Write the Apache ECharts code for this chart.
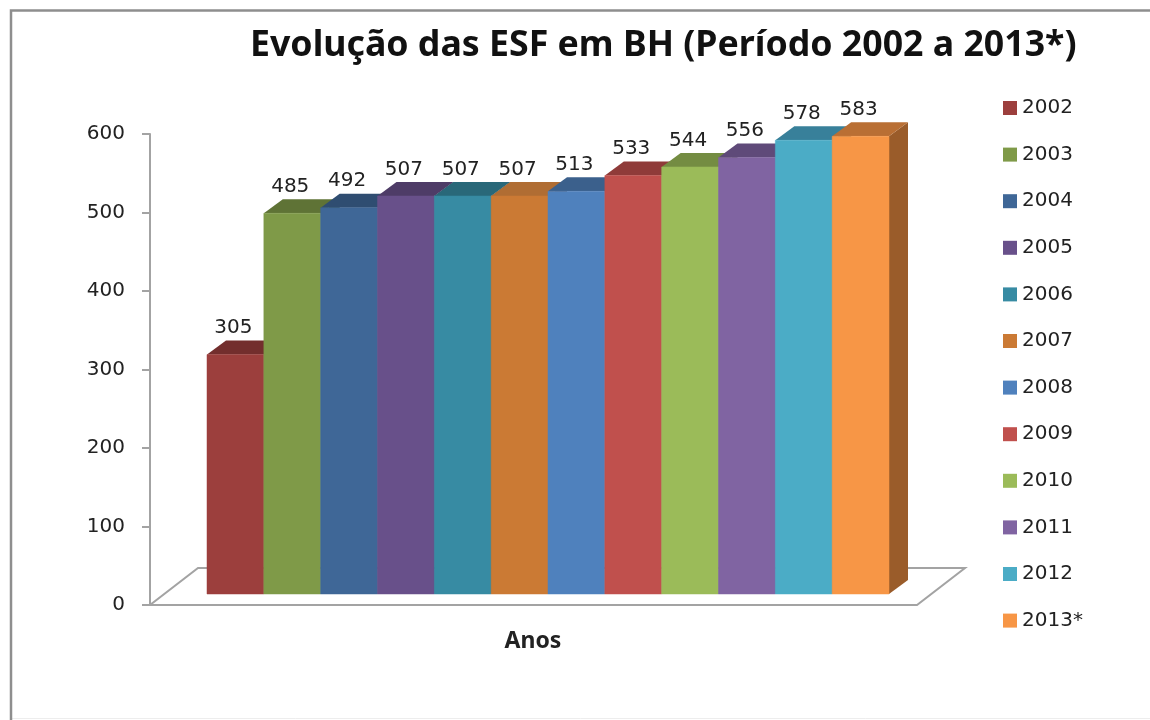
<!DOCTYPE html>
<html><head><meta charset="utf-8">
<style>html,body{margin:0;padding:0;background:#fff}#c{width:1150px;height:720px}</style>
<script src="https://cdn.jsdelivr.net/npm/echarts@6/dist/echarts.min.js"></script>
</head><body><div id="c"></div>
<script>
var categories = ['2002','2003','2004','2005','2006','2007','2008','2009','2010','2011','2012','2013*'];
var values = [305,485,492,507,507,507,513,533,544,556,578,583];
var colors = ['#9c3f3d','#7f9a48','#3f6797','#68508a','#378ba3','#cb7a34','#4f81bd','#c0504d','#9bbb59','#8064a2','#4bacc6','#f79646'];
var topColors = ['#732e2d','#5f7336','#2f4d71','#4e3c67','#296879','#b06d33','#3b608c','#8f3b39','#748c42','#5f4a79','#38809a','#b96f34'];
var sideColors = ['#672927','#516331','#284261','#433359','#235a69','#9a5c2a','#335379','#7b3331','#647939','#523f68','#307086','#9a5c2a'];
var axisGrey = '#a3a3a3';
var textDark = '#222222';
var numFont = '"DejaVu Sans"';

var chart = echarts.init(document.getElementById('c'), null, {renderer:'canvas'});

function barItem(idx){
  return function(params, api){
    var v = api.value(1);
    var p = api.coord([api.value(0), v]);
    var p0 = api.coord([api.value(0), 0]);
    var w = api.size([1,0])[0];
    var lift = 11, dx = 19, dy = 14;
    var x0 = p[0]-w/2, x1 = p[0]+w/2, yt = p[1]-lift, yb = p0[1]-lift;
    return {type:'group', children:[
      {type:'polygon', shape:{points:[[x1,yt],[x1+dx,yt-dy],[x1+dx,yb-dy],[x1,yb]]}, style:{fill:sideColors[idx]}},
      {type:'polygon', shape:{points:[[x0,yt],[x0+dx,yt-dy],[x1+dx,yt-dy],[x1,yt]]}, style:{fill:topColors[idx]}},
      {type:'rect', shape:{x:x0,y:yt,width:w,height:yb-yt}, style:{fill:colors[idx], stroke:colors[idx], lineWidth:0.5}},
      {type:'text', style:{text:String(v), x:p[0]-2, y:yt-26.5, align:'center', verticalAlign:'middle', fill:textDark, font:'20px '+numFont}}
    ]};
  };
}
function floorItem(params, api){
  var cs = params.coordSys;
  var y0 = api.coord([0,0])[1];
  var xl = cs.x-57, xr = cs.x+cs.width+28, dx = 48, dy = 37;
  return {type:'polygon', shape:{points:[[xl,y0],[xr,y0],[xr+dx,y0-dy],[xl+dx,y0-dy]]},
    style:{fill:'#fff', stroke:axisGrey, lineWidth:2}};
}
var series = [{type:'custom', name:'floor', silent:true, z:1, data:[[0,0]], renderItem:floorItem, encode:{x:0,y:1}}];
categories.forEach(function(c,i){
  series.push({type:'custom', name:c, z:2+i, itemStyle:{color:colors[i]}, data:[[i,values[i]]], renderItem:barItem(i), encode:{x:0,y:1}});
});

chart.setOption({
  animation:false,
  backgroundColor:'#fff',
  title:{text:'Evolução das ESF em BH (Período 2002 a 2013*)', left:250, top:28, padding:0,
    textStyle:{fontFamily:'"Noto Sans"', fontWeight:'bold', fontSize:35.7, color:'#111'}},
  legend:{orient:'vertical', left:1003, top:98, padding:0, data:categories, itemWidth:14, itemHeight:14, itemGap:26.6, icon:'rect',
    textStyle:{fontFamily:numFont, fontSize:20, lineHeight:20, color:textDark}},
  grid:{left:207, top:134, width:682, height:471},
  xAxis:{type:'category', data:categories, axisLine:{show:false}, axisTick:{show:false}, axisLabel:{show:false},
    name:'Anos', nameLocation:'middle', nameGap:25,
    nameTextStyle:{fontFamily:'"Noto Sans"', fontWeight:'bold', fontSize:23, color:'#222', padding:[0,30,0,0]}},
  yAxis:{type:'value', min:0, max:600, interval:100, offset:57,
    axisLine:{show:true, lineStyle:{color:axisGrey, width:2}},
    axisTick:{show:true, length:8, lineStyle:{color:axisGrey, width:2}},
    axisLabel:{margin:25, fontFamily:numFont, fontSize:20, color:textDark},
    splitLine:{show:false}},
  graphic:[
    {type:'line', silent:true, z:99, shape:{x1:11,y1:718.5,x2:1150,y2:718.5}, style:{stroke:'#ededed', lineWidth:1}},
    {type:'polyline', silent:true, z:100, shape:{points:[[11,720],[11,10.5],[1150,10.5]]}, style:{stroke:'#8e8e8e', lineWidth:2.5, fill:null}}
  ],
  series:series
});
</script></body></html>
